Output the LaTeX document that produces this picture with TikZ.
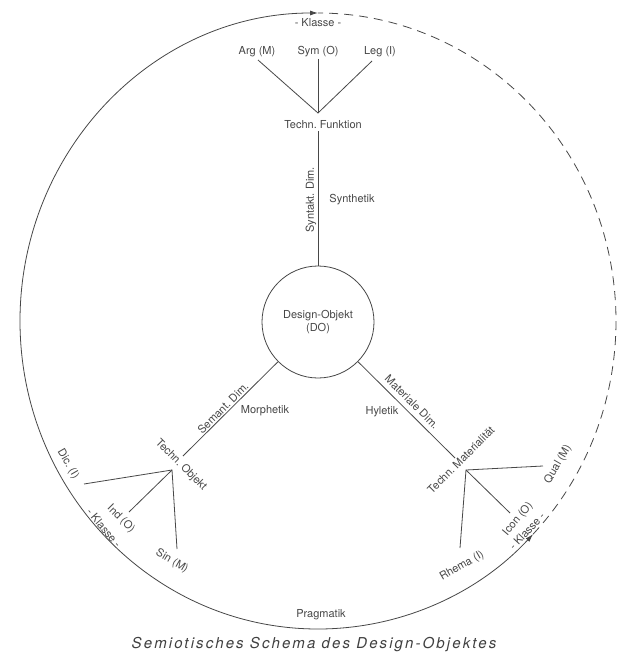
\documentclass[tikz,border=0pt]{standalone}
\usepackage{fontspec}
\newfontfamily\lblfont{TeX Gyre Heros}
\newfontfamily\capfont[LetterSpace=14]{TeX Gyre Heros}
\usetikzlibrary{arrows.meta}
\frenchspacing
\begin{document}
\begin{tikzpicture}[x=1pt,y=-1pt,
  ln/.style={draw=black!72, line width=0.8pt},
  lbl/.style={font=\lblfont\fontsize{11}{13}\selectfont\frenchspacing, text=black!72, inner sep=1pt},
  tipk/.style={{Latex[length=8pt,width=5pt]}-{Latex[length=8pt,width=5pt]}},
]
\useasboundingbox (0,0) rectangle (618,658);
\fill[white] (0,0) rectangle (618,658);

% outer class circle
\coordinate (ktop) at (318,13);
\coordinate (klr) at ({318+298*cos(43.8)},{321+308*sin(43.8)});
\draw[ln, tipk] (ktop) arc[start angle=270, end angle=43.8, x radius=298, y radius=308];
\draw[ln, dash pattern=on 9pt off 6pt] (klr) arc[start angle=43.8, end angle=-90, x radius=298, y radius=308];

% top cluster
\node[lbl] (klTop) at (318,23) {- Klasse -};
\node[lbl] (arg) at (257,52) {Arg (M)};
\node[lbl] (sym) at (318,52) {Sym (O)};
\node[lbl] (leg) at (380,52) {Leg (I)};
\node[lbl] (tf) at (323,125) {Techn. Funktion};
\coordinate (jT) at (318,113);
\coordinate (argE) at (258,60);
\coordinate (symE) at (318,59);
\coordinate (legE) at (372,61);
\draw[ln] (argE) -- (jT) -- (legE);
\draw[ln] (symE) -- (jT);

% centre
\node[lbl, draw=black!72, line width=0.8pt, circle, minimum size=112pt, inner sep=0pt, align=center] (do) at (318,322) {Design-Objekt\\(DO)};
\coordinate (tfE) at (318,131);
\draw[ln] (tfE) -- (do);
\node[lbl, rotate=90] (syn) at (311,200) {Syntakt. Dim.};
\node[lbl] (synth) at (352,200) {Synthetik};

% lower left branch
\coordinate (tobE) at (183,456);
\draw[ln] (do) -- (tobE);
\node[lbl, rotate=45] (sem) at (223,408) {Semant. Dim.};
\node[lbl] (morph) at (265,411) {Morphetik};
\node[lbl, rotate=-45] (tob) at (181,465) {Techn. Objekt};
\coordinate (jL) at (172,470);
\coordinate (dicE) at (84,484);
\coordinate (indE) at (129,512);
\coordinate (sinE) at (177,549);
\draw[ln] (dicE) -- (jL) -- (sinE);
\draw[ln] (indE) -- (jL);
\node[lbl, rotate=-60] (dic) at (68,464) {Dic. (I)};
\node[lbl, rotate=-45] (ind) at (121,519) {Ind (O)};
\node[lbl, rotate=-50] (klLL) at (104,528) {- Klasse -};
\node[lbl, rotate=-30] (sin) at (172,561) {Sin (M)};

% lower right branch
\coordinate (tmatE) at (455,458);
\draw[ln] (do) -- (tmatE);
\node[lbl, rotate=-45] (mat) at (412,402) {Materiale Dim.};
\node[lbl] (hyl) at (382,412) {Hyletik};
\node[lbl, rotate=45] (tmat) at (461,460) {Techn. Materialität};
\coordinate (jR) at (466,470);
\coordinate (qualE) at (543,466);
\coordinate (iconE) at (510,513);
\coordinate (rhemaE) at (460,548);
\draw[ln] (qualE) -- (jR) -- (rhemaE);
\draw[ln] (iconE) -- (jR);
\node[lbl, rotate=60] (qual) at (558,464) {Qual (M)};
\node[lbl, rotate=50] (icon) at (518,519) {Icon (O)};
\node[lbl, rotate=47] (klLR) at (527,531) {- Klasse -};
\node[lbl, rotate=30] (rhema) at (462,566) {Rhema (I)};

% bottom
\node[lbl] (prag) at (321,615) {Pragmatik};
\node[font=\capfont\itshape\fontsize{15}{18}\selectfont, text=black!75, inner sep=1pt] (cap) at (314,645) {Semiotisches Schema des Design-Objektes};
\end{tikzpicture}
\end{document}
